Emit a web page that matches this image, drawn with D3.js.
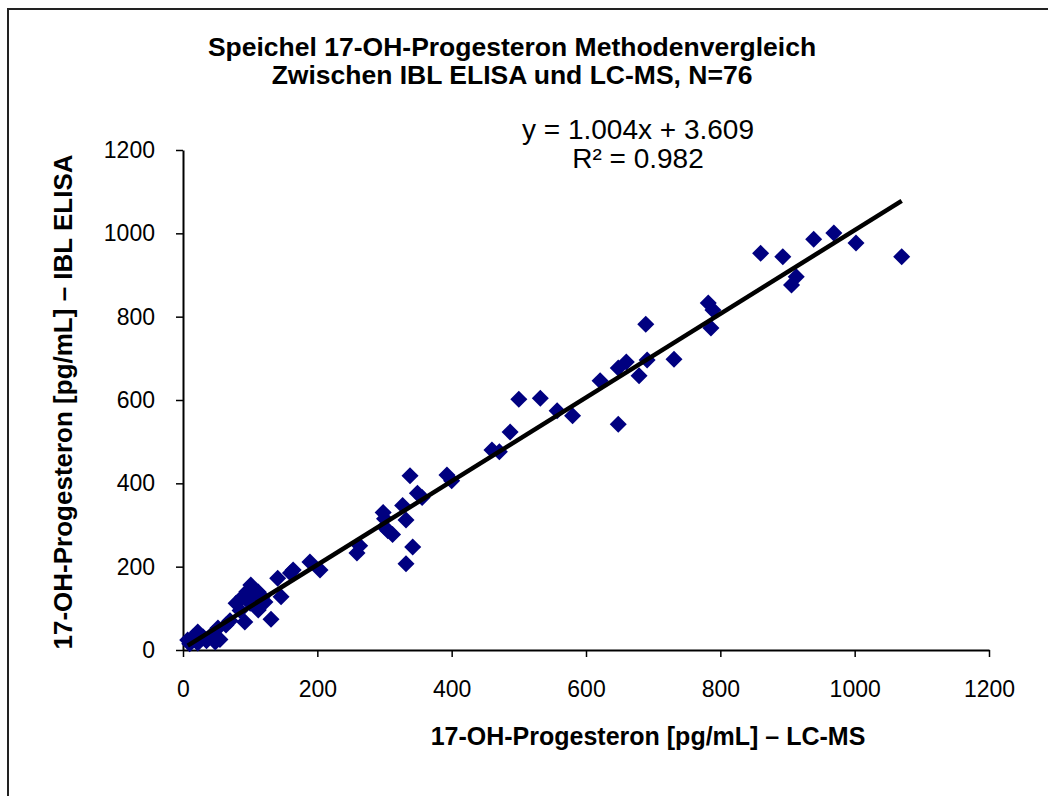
<!DOCTYPE html>
<html>
<head>
<meta charset="utf-8">
<script src="https://cdn.jsdelivr.net/npm/d3@7"></script>
<style>
  body { margin: 0; background: #fff; }
  svg { display: block; font-family: "Liberation Sans", Arial, sans-serif; }
</style>
</head>
<body>
<div id="chart"></div>
<script>
// LC-MS (x) vs IBL ELISA (y), pg/mL
const lcms = [1070, 1002, 969, 939, 893, 860, 913, 906, 782, 789, 786,
  689, 660, 648, 691, 679, 731, 621, 648, 557, 580,
  500, 532, 487, 460, 471,
  393, 400,
  338, 349, 356, 327, 332, 342, 332,
  298, 300, 305, 312, 300,
  263, 259,
  189, 204, 164, 160,
  141, 146, 131,
  101, 112, 89, 79, 112, 92, 100, 122, 95, 105, 85, 118, 70,
  64, 52, 42, 48, 22, 15, 7, 22, 30, 10, 18, 35, 45, 55];
const elisa = [944, 977, 1001, 986, 944, 952, 896, 876, 833, 816, 773,
  782, 691, 677, 696, 658, 698, 646, 542, 574, 562,
  602, 604, 523, 480, 476,
  420, 406,
  418, 376, 366, 347, 312, 247, 207,
  330, 295, 286, 277, 315,
  250, 233,
  211, 192, 192, 185,
  172, 128, 74,
  156, 139, 128, 112, 96, 67, 112, 115, 140, 125, 95, 128, 70,
  60, 53, 31, 19, 43, 31, 24, 17, 31, 15, 28, 22, 40, 25];

const ticks = [0, 200, 400, 600, 800, 1000, 1200];
const slope = 1.004, intercept = 3.609;
const titleLines = ["Speichel 17-OH-Progesteron Methodenvergleich", "Zwischen IBL ELISA und LC-MS, N=76"];
const eqLines = ["y = 1.004x + 3.609", "R\u00B2 = 0.982"];

const points = lcms.map((x, i) => ({x: x, y: elisa[i]}));

const W = 1048, H = 796;
const svg = d3.select("#chart").append("svg")
  .attr("width", W)
  .attr("height", H);

// outer chart frame (runs off the right/bottom like the original)
svg.append("rect")
  .attr("x", 8).attr("y", 9)
  .attr("width", 1100).attr("height", 900)
  .attr("fill", "none")
  .attr("stroke", "#222")
  .attr("stroke-width", 2);

const x = d3.scaleLinear().domain([0, 1200]).range([183, 989]);
const y = d3.scaleLinear().domain([0, 1200]).range([650, 150]);

// axes
const xAxis = svg.append("g")
  .attr("transform", "translate(0,650)")
  .call(d3.axisBottom(x).tickValues(ticks).tickFormat(d3.format("d"))
    .tickSize(7).tickPadding(24).tickSizeOuter(0));
const yAxis = svg.append("g")
  .attr("transform", "translate(183,0)")
  .call(d3.axisLeft(y).tickValues(ticks).tickFormat(d3.format("d"))
    .tickSize(7).tickPadding(21).tickSizeOuter(0));

[xAxis, yAxis].forEach(g => {
  g.select(".domain").attr("stroke", "#000").attr("stroke-width", 2);
  g.selectAll(".tick line").attr("stroke", "#000").attr("stroke-width", 1.5);
  g.selectAll(".tick text")
    .attr("fill", "#000")
    .style("font-family", "'Liberation Sans', Arial, sans-serif")
    .style("font-size", "23px");
});

// points
svg.append("g").selectAll("path")
  .data(points)
  .enter().append("path")
    .attr("d", d3.symbol(d3.symbolSquare, 145))
    .attr("transform", d => "translate(" + x(d.x) + "," + y(d.y) + ") rotate(45)")
    .attr("fill", "#000080");

// trend line over the data range
const ext = d3.extent(lcms);
svg.append("line")
  .attr("x1", x(ext[0])).attr("y1", y(slope * ext[0] + intercept))
  .attr("x2", x(ext[1])).attr("y2", y(slope * ext[1] + intercept))
  .attr("stroke", "#000")
  .attr("stroke-width", 4.5);

// title
svg.append("g").selectAll("text")
  .data(titleLines)
  .enter().append("text")
    .attr("x", 512)
    .attr("y", (d, i) => 56 + i * 28)
    .attr("text-anchor", "middle")
    .style("font-size", "26.5px")
    .style("font-weight", "bold")
    .text(d => d);

// regression label
svg.append("g").selectAll("text")
  .data(eqLines)
  .enter().append("text")
    .attr("x", 638)
    .attr("y", (d, i) => 139 + i * 29)
    .attr("text-anchor", "middle")
    .style("font-size", "28px")
    .text(d => d);

// axis titles
svg.append("text")
  .attr("x", 648).attr("y", 745)
  .attr("text-anchor", "middle")
  .style("font-size", "25px")
  .style("font-weight", "bold")
  .text("17-OH-Progesteron [pg/mL] \u2013 LC-MS");

svg.append("text")
  .attr("transform", "translate(72,402) rotate(-90)")
  .attr("text-anchor", "middle")
  .style("font-size", "26px")
  .style("font-weight", "bold")
  .text("17-OH-Progesteron [pg/mL] \u2013 IBL ELISA");
</script>
</body>
</html>
